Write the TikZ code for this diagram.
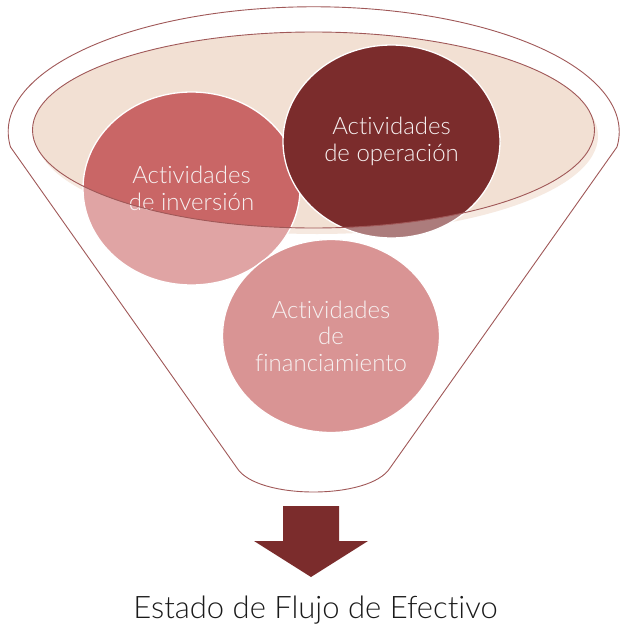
\documentclass[tikz,border=0pt]{standalone}
\usepackage{fontspec}
\setmainfont{Lato Light}[Ligatures={NoCommon}]
\usetikzlibrary{shapes.geometric}

\definecolor{funnelline}{HTML}{A05858}
\definecolor{bowlfill}{HTML}{F2E0D3}
\definecolor{bowlshade}{HTML}{F6E9E0}
\definecolor{invdark}{HTML}{C96666}
\definecolor{invlight}{HTML}{E0A4A4}
\definecolor{opdark}{HTML}{7B2C2C}
\definecolor{oplight}{HTML}{AC7C7C}
\definecolor{finfill}{HTML}{D99494}
\definecolor{labeltext}{HTML}{F7F1F1}
\definecolor{arrowfill}{HTML}{7B2C2C}
\definecolor{titletext}{HTML}{1A1A1A}

\tikzset{
  outline/.style={draw=funnelline, line width=0.9pt},
  bubble/.style={ellipse, minimum width=217pt, minimum height=193pt, inner sep=0pt,
    draw=white, line width=1.3pt, text=labeltext, align=center,
    font=\fontsize{24}{26.5}\selectfont},
}

\begin{document}
\begin{tikzpicture}[x=1pt, y=-1pt]
\useasboundingbox (0,0) rectangle (627,642);

% funnel body: back rim of the mouth, sloping sides, rounded spout
\draw[outline, fill=white] (10.5,147)
  arc[start angle=173, end angle=367, x radius=305.5, y radius=125]
  -- (390,468) .. controls (370,500) and (257,500) .. (237,468) -- cycle;

% liquid surface with its soft shadow
\fill[bowlshade] (317,136) ellipse [x radius=281, y radius=98];
\node[ellipse, minimum width=562pt, minimum height=196pt, inner sep=0pt,
      fill=bowlfill] (bowl) at (313.5,130) {};

% the three activity bubbles (paler where they sit below the surface)
\node[bubble, fill=invlight,
      path picture={\fill[invdark] (bowl.center) ellipse [x radius=281, y radius=98];}]
  (inv) at (191.5,188.5) {Actividades\\de inversión};
\node[bubble, fill=oplight,
      path picture={\fill[opdark] (bowl.center) ellipse [x radius=281, y radius=98];}]
  (op) at (391.5,141.5) {Actividades\\de operación};
\node[bubble, fill=finfill] (fin) at (331,336) {Actividades\\de\\financiamiento};

% rim of the liquid surface drawn over the bubbles
\draw[outline] (bowl.center) ellipse [x radius=281, y radius=98];

% output arrow and result
\fill[arrowfill] (283,506) -- (339,506) -- (339,541) -- (368,541) -- (311,577)
  -- (254,541) -- (283,541) -- cycle;
\node[anchor=base, text=titletext, font=\fontsize{31}{34}\selectfont, inner sep=0pt]
  (title) at (315.5,618) {Estado de Flujo de Efectivo};
\end{tikzpicture}
\end{document}
